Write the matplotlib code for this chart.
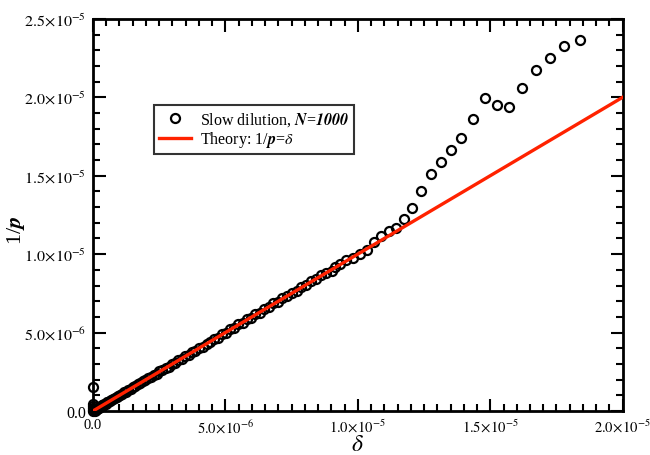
import matplotlib
matplotlib.use("Agg")
import matplotlib.pyplot as plt
from matplotlib.ticker import MultipleLocator, FuncFormatter

plt.rcParams['font.family'] = ['Liberation Serif', 'DejaVu Serif']
plt.rcParams['mathtext.fontset'] = 'stix'

# simulation points, in units of 1e-6
delta = [0.00, 0.00, 0.00, 0.01, 0.00, 0.02, 0.04, 0.06, 0.08, 0.10, 0.13, 0.16, 0.19,
         0.22, 0.26, 0.30, 0.34, 0.38, 0.43, 0.48, 0.53, 0.58, 0.64, 0.70, 0.76, 0.82,
         0.89, 0.96, 1.03, 1.10, 1.18, 1.26, 1.34, 1.42, 1.51, 1.60, 1.69, 1.78, 1.88,
         1.98, 2.08, 2.18, 2.29, 2.40, 2.51, 2.62, 2.74, 2.86, 2.98, 3.10, 3.22, 3.35,
         3.48, 3.61, 3.74, 3.87, 4.01, 4.15, 4.29, 4.43, 4.58, 4.73, 4.88, 5.03, 5.18,
         5.33, 5.49, 5.65, 5.81, 5.97, 6.13, 6.30, 6.47, 6.64, 6.81, 6.98, 7.15, 7.33,
         7.51, 7.69, 7.87, 8.05, 8.24, 8.43, 8.62, 8.81, 9.01, 9.13, 9.32, 9.57, 9.82,
         10.08, 10.35, 10.62, 10.89, 11.17, 11.43, 11.75, 12.06, 12.40, 12.75, 13.13,
         13.51, 13.91, 14.35, 14.80, 15.26, 15.72, 16.20, 16.71, 17.25, 17.80, 18.38]
inv_p = [1.55, 0.30, 0.45, 0.20, 0.05, 0.00, 0.10, 0.03, 0.12, 0.08, 0.15, 0.12, 0.22,
         0.20, 0.27, 0.29, 0.36, 0.37, 0.44, 0.47, 0.55, 0.57, 0.65, 0.69, 0.78, 0.81,
         0.90, 0.95, 1.05, 1.09, 1.19, 1.24, 1.35, 1.41, 1.53, 1.58, 1.70, 1.76, 1.89,
         1.96, 2.10, 2.16, 2.30, 2.37, 2.52, 2.60, 2.76, 2.83, 2.99, 3.06, 3.23, 3.31,
         3.49, 3.56, 3.75, 3.82, 4.02, 4.10, 4.30, 4.39, 4.60, 4.68, 4.90, 4.99, 5.22,
         5.31, 5.52, 5.60, 5.84, 5.93, 6.18, 6.26, 6.50, 6.61, 6.86, 6.94, 7.19, 7.30,
         7.55, 7.65, 7.92, 8.02, 8.28, 8.40, 8.66, 8.78, 8.95, 9.17, 9.38, 9.63, 9.76,
         10.01, 10.27, 10.76, 11.14, 11.50, 11.65, 12.24, 12.93, 14.05, 15.11, 15.90,
         16.66, 17.41, 18.62, 19.94, 19.53, 19.39, 20.62, 21.73, 22.51, 23.30, 23.66]

theory_x = [0.0, 20.0]
theory_y = [0.0, 20.0]

scale = 1e-6


def sci_label(v, pos):
    if abs(v) < 1e-12:
        return '0.0'
    exp = 0
    m = v
    while abs(m) < 1:
        m *= 10
        exp -= 1
    return r'$%.1f\!\times\!10^{%d}$' % (m, exp)


fig = plt.figure(figsize=(6.5, 4.56), dpi=100)
ax = fig.add_axes([0.143, 0.0965, 0.815, 0.86])

ax.plot([v * scale for v in delta], [v * scale for v in inv_p], 'o', ms=6.5,
        mfc='none', mec='black', mew=1.6, clip_on=False, zorder=3,
        label=r'Slow dilution, $\mathbfit{N}$=$\mathbfit{1000}$')
ax.plot([v * scale for v in theory_x], [v * scale for v in theory_y], '-',
        color='#ff2200', lw=2.4, zorder=4,
        label=r'Theory: 1/$\mathbfit{p}$=$\mathit{\delta}$')

ax.set_xlim(0, 2.0e-5)
ax.set_ylim(0, 2.5e-5)
ax.xaxis.set_major_locator(MultipleLocator(5e-6))
ax.xaxis.set_minor_locator(MultipleLocator(5e-7))
ax.yaxis.set_major_locator(MultipleLocator(5e-6))
ax.yaxis.set_minor_locator(MultipleLocator(1e-6))
ax.xaxis.set_major_formatter(FuncFormatter(sci_label))
ax.yaxis.set_major_formatter(FuncFormatter(sci_label))

ax.tick_params(which='both', direction='in', top=True, right=True,
               labelsize=11.5, width=1.5, colors='black')
ax.tick_params(axis='x', labelsize=10.5)
ax.tick_params(which='major', length=9, pad=5)
ax.tick_params(which='minor', length=5)
for s in ax.spines.values():
    s.set_linewidth(2)

ax.set_xlabel(r'$\mathit{\delta}$', fontsize=17)
ax.set_ylabel(r'1/$\mathbfit{p}$', fontsize=16)
ax.xaxis.set_label_coords(0.5, -0.058)
ax.yaxis.set_label_coords(-0.125, 0.464)

leg = ax.legend(loc='upper left', bbox_to_anchor=(0.1, 0.80), fontsize=11.5,
                frameon=True, fancybox=False, edgecolor='black',
                handlelength=2.0, handletextpad=0.6, borderpad=0.3,
                labelspacing=0.1)
leg.get_frame().set_linewidth(1.5)

fig.savefig('out.png', dpi=100)
